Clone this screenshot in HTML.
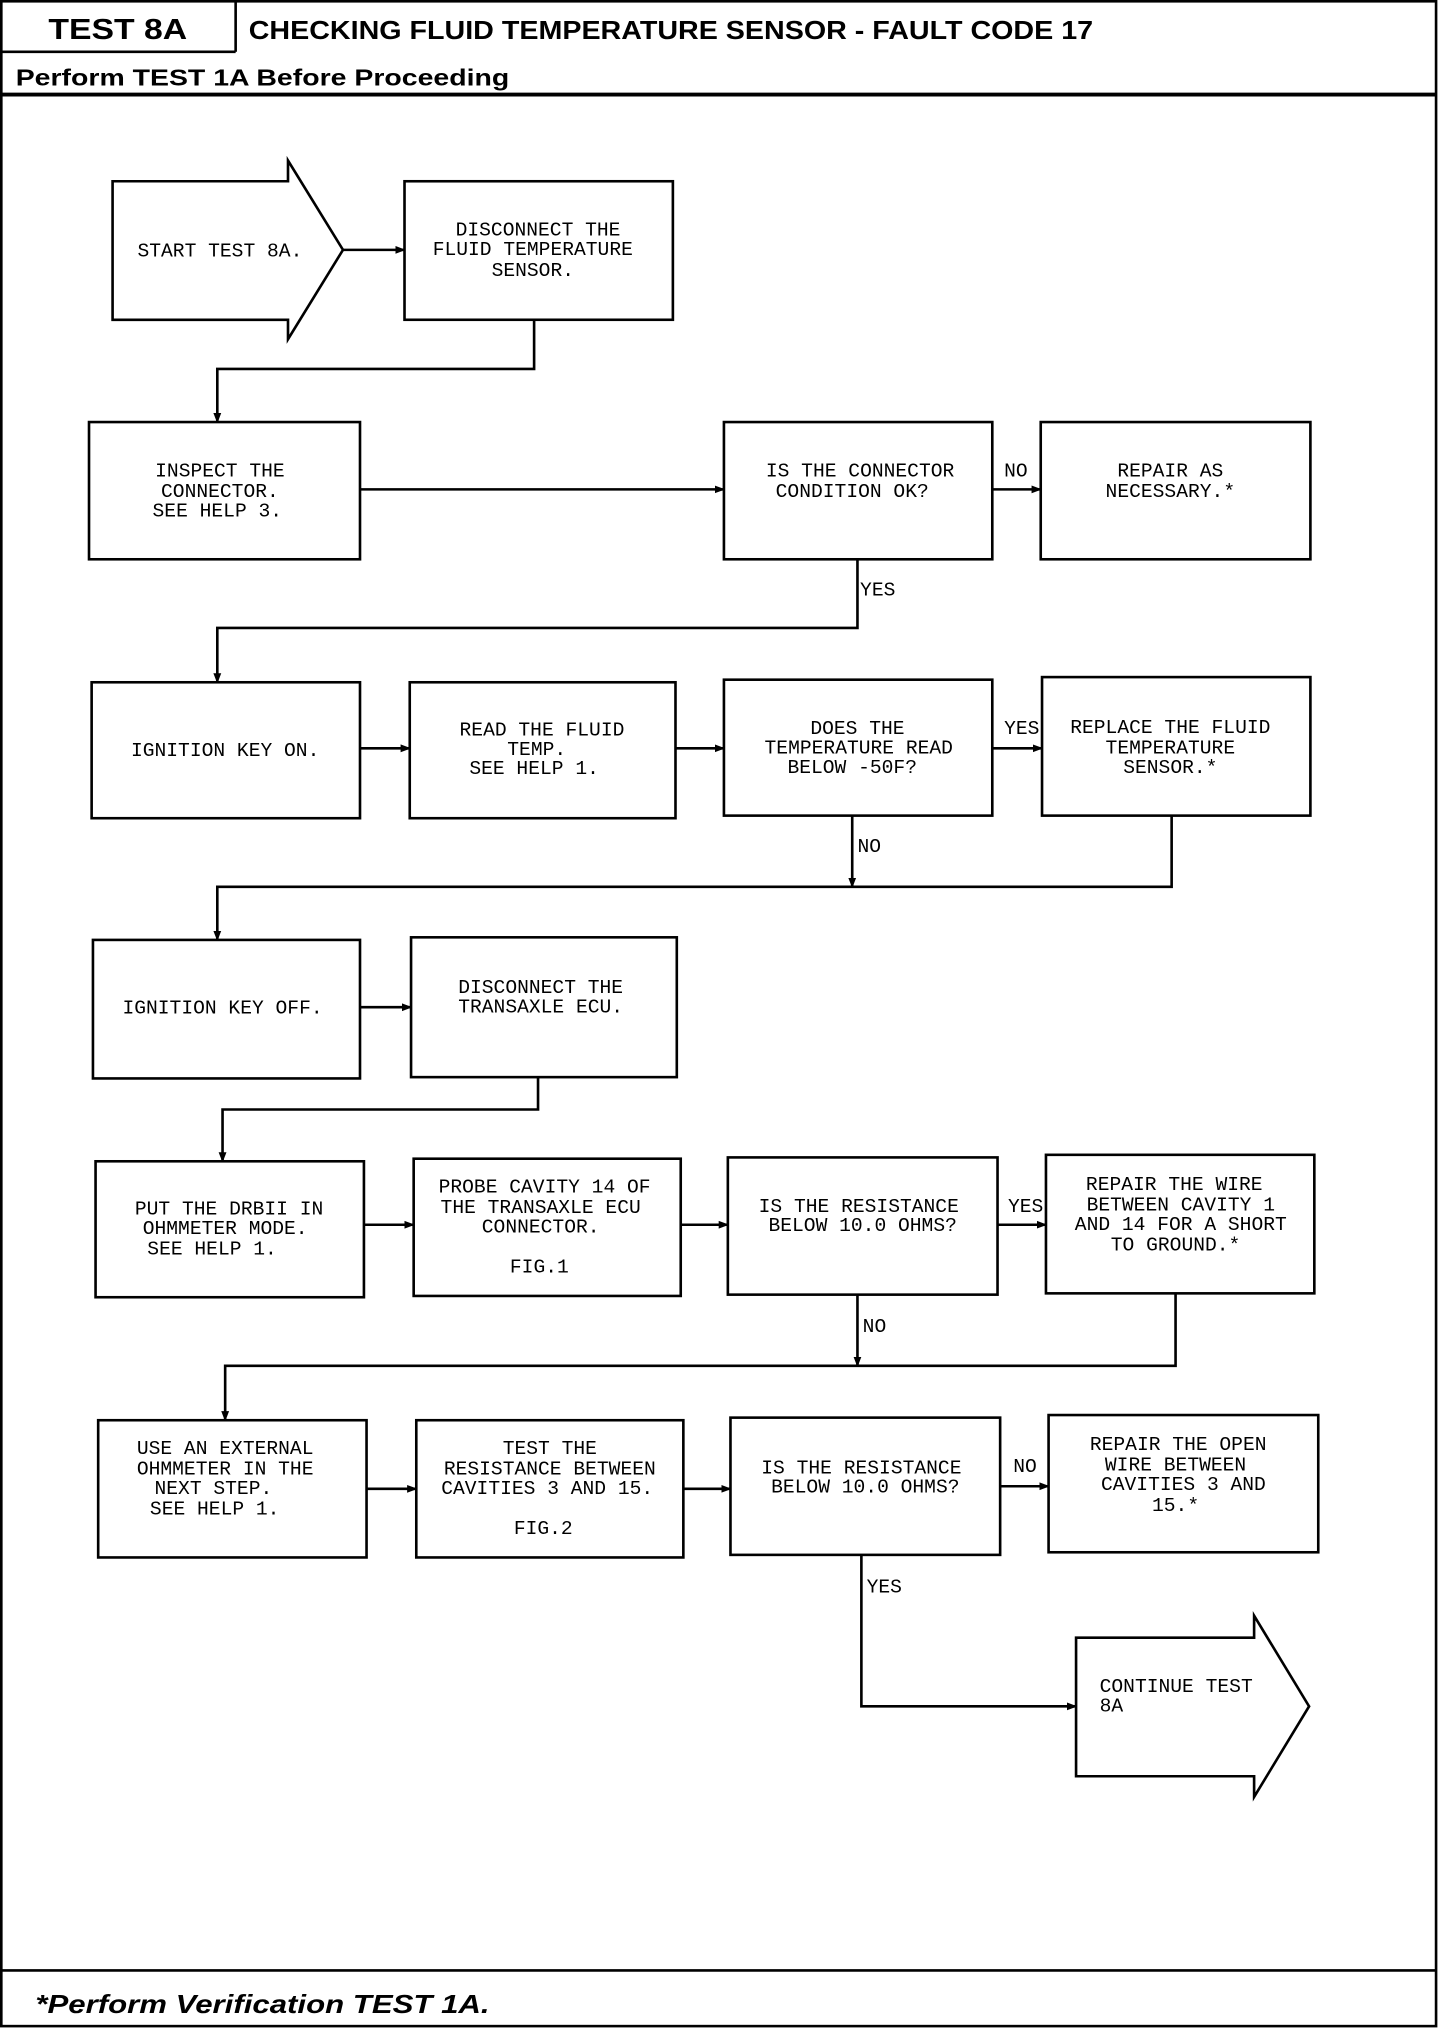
<!DOCTYPE html>
<html><head><meta charset="utf-8"><style>
html,body{margin:0;padding:0;background:#fff;}
svg{display:block}
.t{font-family:"Liberation Mono",monospace;font-size:15px;fill:#000;text-anchor:middle}
.l{font-family:"Liberation Mono",monospace;font-size:15px;fill:#000}
.b{fill:#fff;stroke:#000;stroke-width:2}
.c{fill:none;stroke:#000;stroke-width:2}
</style></head><body>
<svg width="1440" height="2030" viewBox="0 0 1100 1568" preserveAspectRatio="none" xmlns="http://www.w3.org/2000/svg">
<defs><marker id="a" markerWidth="8" markerHeight="8" refX="7" refY="4" orient="auto" markerUnits="userSpaceOnUse"><path d="M0,1 L8,4 L0,7z" fill="#000"/></marker></defs>
<rect x="1" y="1" width="1096" height="1564" fill="none" stroke="#000" stroke-width="2"/>
<line x1="180" y1="1" x2="180" y2="40" stroke="#000" stroke-width="2"/>
<line x1="1" y1="40" x2="180" y2="40" stroke="#000" stroke-width="2"/>
<line x1="1" y1="73" x2="1097" y2="73" stroke="#000" stroke-width="3"/>
<line x1="1" y1="1522" x2="1097" y2="1522" stroke="#000" stroke-width="2"/>
<text x="37" y="30" font-family="Liberation Sans,sans-serif" font-weight="bold" font-size="22" textLength="106" lengthAdjust="spacingAndGlyphs">TEST 8A</text>
<text x="190" y="30" font-family="Liberation Sans,sans-serif" font-weight="bold" font-size="20" textLength="645" lengthAdjust="spacingAndGlyphs">CHECKING FLUID TEMPERATURE SENSOR - FAULT CODE 17</text>
<text x="12" y="66" font-family="Liberation Sans,sans-serif" font-weight="bold" font-size="18" textLength="377" lengthAdjust="spacingAndGlyphs">Perform TEST 1A Before Proceeding</text>
<text x="27" y="1555" font-family="Liberation Sans,sans-serif" font-weight="bold" font-style="italic" font-size="20" textLength="347" lengthAdjust="spacingAndGlyphs">*Perform Verification TEST 1A.</text>

<!-- start arrow -->
<path class="b" d="M86,140 H220 V124 L262,193 L220,262 V247 H86 Z"/>
<text class="t" x="168" y="198">START TEST 8A.</text>
<line class="c" x1="262" y1="193" x2="309" y2="193" marker-end="url(#a)"/>
<rect class="b" x="309" y="140" width="205" height="107"/>
<text class="t" x="411" y="182">DISCONNECT THE</text><text class="t" x="407" y="197">FLUID TEMPERATURE</text><text class="t" x="407" y="213">SENSOR.</text>
<polyline class="c" points="408,247 408,285 166,285 166,326" marker-end="url(#a)"/>

<rect class="b" x="68" y="326" width="207" height="106"/>
<text class="t" x="168" y="368">INSPECT THE</text><text class="t" x="168" y="384">CONNECTOR.</text><text class="t" x="166" y="399">SEE HELP 3.</text>
<line class="c" x1="275" y1="378" x2="553" y2="378" marker-end="url(#a)"/>
<rect class="b" x="553" y="326" width="205" height="106"/>
<text class="t" x="657" y="368">IS THE CONNECTOR</text><text class="t" x="651" y="384">CONDITION OK?</text>
<line class="c" x1="758" y1="378" x2="795" y2="378" marker-end="url(#a)"/>
<text class="l" x="767" y="368">NO</text>
<rect class="b" x="795" y="326" width="206" height="106"/>
<text class="t" x="894" y="368">REPAIR AS</text><text class="t" x="894" y="384">NECESSARY.*</text>
<polyline class="c" points="655,432 655,485 166,485 166,527" marker-end="url(#a)"/>
<text class="l" x="657" y="460">YES</text>

<rect class="b" x="70" y="527" width="205" height="105"/>
<text class="t" x="172" y="584">IGNITION KEY ON.</text>
<line class="c" x1="275" y1="578" x2="313" y2="578" marker-end="url(#a)"/>
<rect class="b" x="313" y="527" width="203" height="105"/>
<text class="t" x="414" y="568">READ THE FLUID</text><text class="t" x="410" y="583">TEMP.</text><text class="t" x="408" y="598">SEE HELP 1.</text>
<line class="c" x1="516" y1="578" x2="553" y2="578" marker-end="url(#a)"/>
<rect class="b" x="553" y="525" width="205" height="105"/>
<text class="t" x="655" y="567">DOES THE</text><text class="t" x="656" y="582">TEMPERATURE READ</text><text class="t" x="651" y="597">BELOW -50F?</text>
<line class="c" x1="758" y1="578" x2="796" y2="578" marker-end="url(#a)"/>
<text class="l" x="767" y="567">YES</text>
<rect class="b" x="796" y="523" width="205" height="107"/>
<text class="t" x="894" y="566">REPLACE THE FLUID</text><text class="t" x="894" y="582">TEMPERATURE</text><text class="t" x="894" y="597">SENSOR.*</text>
<line class="c" x1="651" y1="630" x2="651" y2="685" marker-end="url(#a)"/>
<text class="l" x="655" y="658">NO</text>
<polyline class="c" points="895,630 895,685 166,685 166,726" marker-end="url(#a)"/>

<rect class="b" x="71" y="726" width="204" height="107"/>
<text class="t" x="170" y="783">IGNITION KEY OFF.</text>
<line class="c" x1="275" y1="778" x2="314" y2="778" marker-end="url(#a)"/>
<rect class="b" x="314" y="724" width="203" height="108"/>
<text class="t" x="413" y="767">DISCONNECT THE</text><text class="t" x="413" y="782">TRANSAXLE ECU.</text>
<polyline class="c" points="411,832 411,857 170,857 170,897" marker-end="url(#a)"/>

<rect class="b" x="73" y="897" width="205" height="105"/>
<text class="t" x="175" y="938">PUT THE DRBII IN</text><text class="t" x="172" y="953">OHMMETER MODE.</text><text class="t" x="162" y="969">SEE HELP 1.</text>
<line class="c" x1="278" y1="946" x2="316" y2="946" marker-end="url(#a)"/>
<rect class="b" x="316" y="895" width="204" height="106"/>
<text class="t" x="416" y="921">PROBE CAVITY 14 OF</text><text class="t" x="413" y="937">THE TRANSAXLE ECU</text><text class="t" x="413" y="952">CONNECTOR.</text><text class="t" x="412" y="983">FIG.1</text>
<line class="c" x1="520" y1="946" x2="556" y2="946" marker-end="url(#a)"/>
<rect class="b" x="556" y="894" width="206" height="106"/>
<text class="t" x="656" y="936">IS THE RESISTANCE</text><text class="t" x="659" y="951">BELOW 10.0 OHMS?</text>
<line class="c" x1="762" y1="946" x2="799" y2="946" marker-end="url(#a)"/>
<text class="l" x="770" y="936">YES</text>
<rect class="b" x="799" y="892" width="205" height="107"/>
<text class="t" x="897" y="919">REPAIR THE WIRE</text><text class="t" x="902" y="935">BETWEEN CAVITY 1</text><text class="t" x="902" y="950">AND 14 FOR A SHORT</text><text class="t" x="898" y="966">TO GROUND.*</text>
<line class="c" x1="655" y1="1000" x2="655" y2="1055" marker-end="url(#a)"/>
<text class="l" x="659" y="1029">NO</text>
<polyline class="c" points="898,999 898,1055 172,1055 172,1097" marker-end="url(#a)"/>

<rect class="b" x="75" y="1097" width="205" height="106"/>
<text class="t" x="172" y="1123">USE AN EXTERNAL</text><text class="t" x="172" y="1139">OHMMETER IN THE</text><text class="t" x="163" y="1154">NEXT STEP.</text><text class="t" x="164" y="1170">SEE HELP 1.</text>
<line class="c" x1="280" y1="1150" x2="318" y2="1150" marker-end="url(#a)"/>
<rect class="b" x="318" y="1097" width="204" height="106"/>
<text class="t" x="420" y="1123">TEST THE</text><text class="t" x="420" y="1139">RESISTANCE BETWEEN</text><text class="t" x="418" y="1154">CAVITIES 3 AND 15.</text><text class="t" x="415" y="1185">FIG.2</text>
<line class="c" x1="522" y1="1150" x2="558" y2="1150" marker-end="url(#a)"/>
<rect class="b" x="558" y="1095" width="206" height="106"/>
<text class="t" x="658" y="1138">IS THE RESISTANCE</text><text class="t" x="661" y="1153">BELOW 10.0 OHMS?</text>
<line class="c" x1="764" y1="1148" x2="801" y2="1148" marker-end="url(#a)"/>
<text class="l" x="774" y="1137">NO</text>
<rect class="b" x="801" y="1093" width="206" height="106"/>
<text class="t" x="900" y="1120">REPAIR THE OPEN</text><text class="t" x="898" y="1136">WIRE BETWEEN</text><text class="t" x="904" y="1151">CAVITIES 3 AND</text><text class="t" x="898" y="1167">15.*</text>
<polyline class="c" points="658,1201 658,1318 822,1318" marker-end="url(#a)"/>
<text class="l" x="662" y="1230">YES</text>

<path class="b" d="M822,1265 H958 V1248 L1000,1318 L958,1388 V1372 H822 Z"/>
<text class="l" x="840" y="1307">CONTINUE TEST</text><text class="l" x="840" y="1322">8A</text>
</svg>
</body></html>
